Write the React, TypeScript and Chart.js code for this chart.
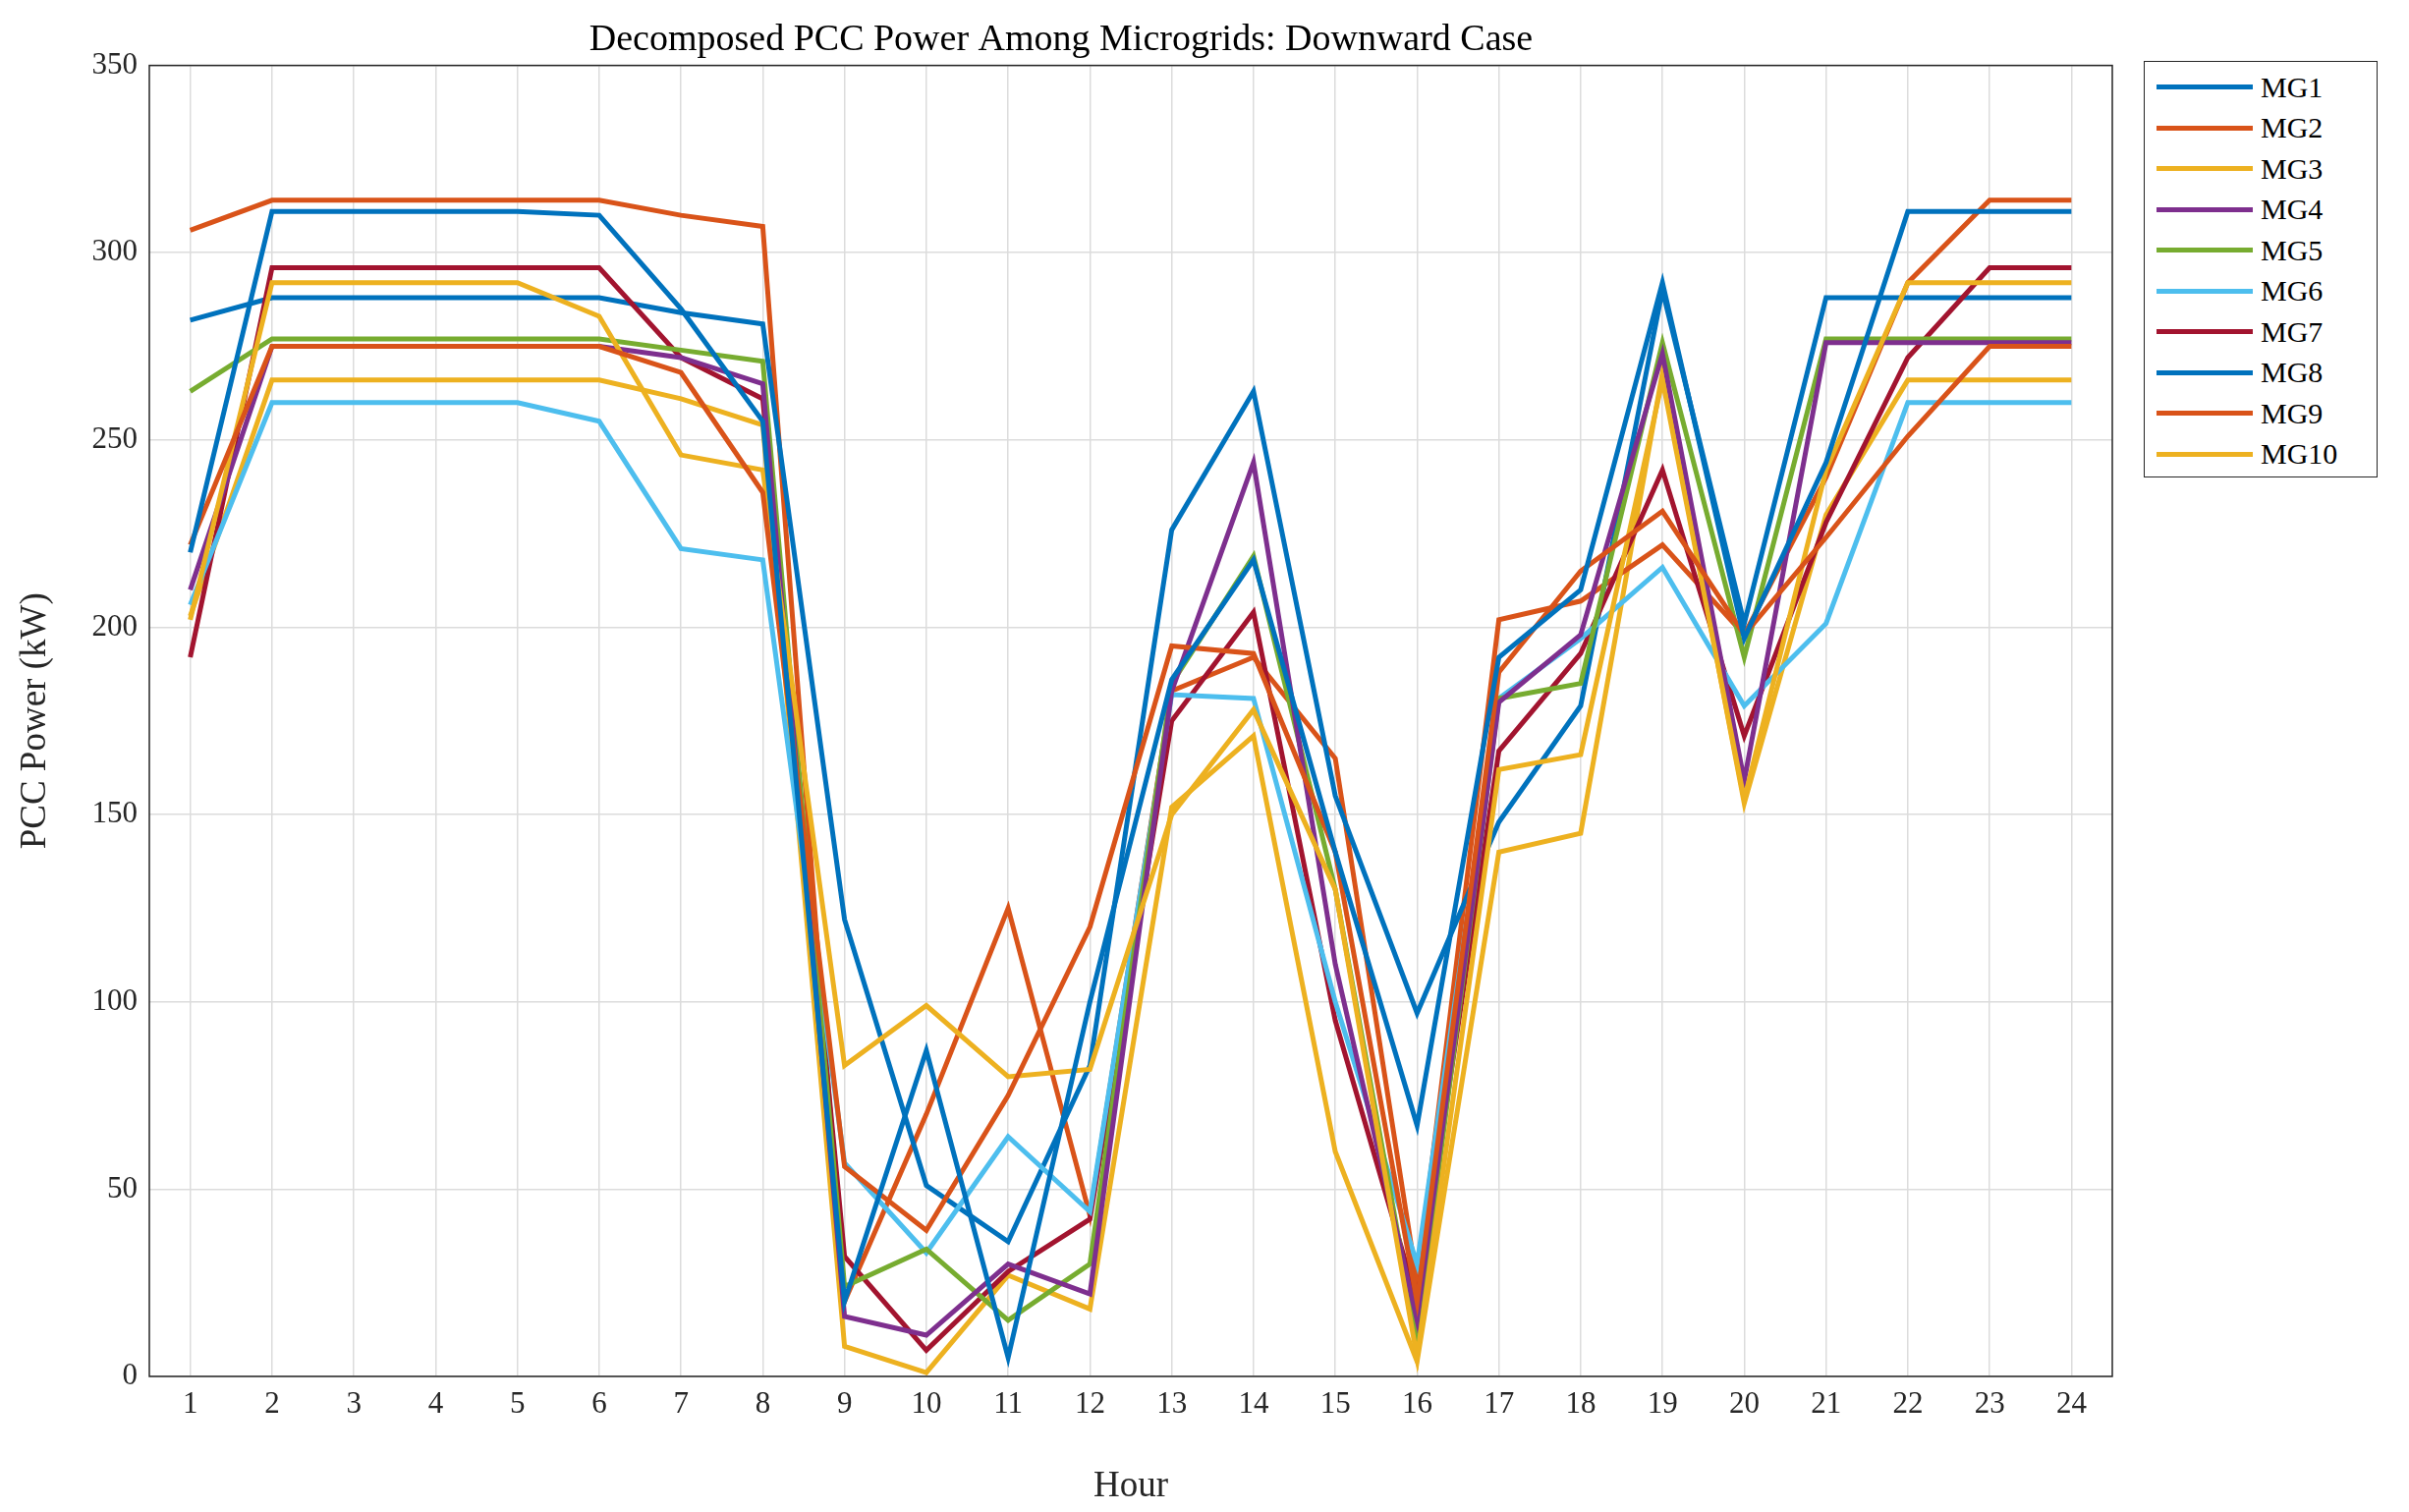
import React, { useEffect, useRef } from "react";
import { Chart, registerables } from "chart.js";
Chart.register(...registerables);

const hours = Array.from({ length: 24 }, (_, i) => i + 1);
const seriesNames = ["MG1", "MG2", "MG3", "MG4", "MG5", "MG6", "MG7", "MG8", "MG9", "MG10"];
const colors = ["#0072BD", "#D95319", "#EDB120", "#7E2F8E", "#77AC30", "#4DBEEE", "#A2142F", "#0072BD", "#D95319", "#EDB120"];

const mg1 = [220, 311, 311, 311, 311, 310, 285, 255, 20, 87, 5, 100, 186, 218, 140, 67, 192, 210, 292, 197, 244, 311, 311, 311];
const mg2 = [222, 275, 275, 275, 275, 275, 268, 236, 56, 39, 75, 120, 195, 193, 140, 20, 188, 215, 231, 198, 224, 251, 275, 275];
const mg3 = [202, 292, 292, 292, 292, 283, 246, 242, 83, 99, 80, 82, 150, 178, 130, 5, 162, 166, 266, 154, 242, 292, 292, 292];
const mg4 = [210, 275, 275, 275, 275, 275, 272, 265, 16, 11, 30, 22, 183, 244, 110, 15, 180, 198, 273, 159, 276, 276, 276, 276];
const mg5 = [263, 277, 277, 277, 277, 277, 274, 271, 24, 34, 15, 30, 185, 219, 130, 10, 181, 185, 276, 192, 277, 277, 277, 277];
const mg6 = [206, 260, 260, 260, 260, 255, 221, 218, 57, 33, 64, 44, 182, 181, 100, 30, 181, 197, 216, 179, 201, 260, 260, 260];
const mg7 = [192, 296, 296, 296, 296, 296, 272, 261, 32, 7, 28, 42, 175, 204, 95, 20, 167, 193, 242, 171, 228, 272, 296, 296];
const mg8 = [282, 288, 288, 288, 288, 288, 284, 281, 122, 51, 36, 83, 226, 263, 155, 97, 148, 179, 290, 201, 288, 288, 288, 288];
const mg9 = [306, 314, 314, 314, 314, 314, 310, 307, 20, 70, 125, 43, 183, 192, 165, 25, 202, 207, 222, 198, 240, 292, 314, 314];
const mg10 = [203, 266, 266, 266, 266, 266, 261, 254, 8, 1, 27, 18, 152, 171, 60, 4, 140, 145, 268, 153, 230, 266, 266, 266];
const allSeries = [mg1, mg2, mg3, mg4, mg5, mg6, mg7, mg8, mg9, mg10];
const yTicks = [0, 50, 100, 150, 200, 250, 300, 350];

const FONT = "'Liberation Serif', 'Times New Roman', serif";

const boxPlugin = {
  id: "box",
  afterDraw(chart: any) {
    const { ctx, chartArea: a } = chart;
    ctx.save();
    ctx.strokeStyle = "#262626";
    ctx.lineWidth = 1.5;
    ctx.strokeRect(a.left, a.top, a.right - a.left, a.bottom - a.top);
    ctx.restore();
  },
};

export default function App() {
  const ref = useRef<HTMLCanvasElement>(null);
  useEffect(() => {
    const chart = new Chart(ref.current as HTMLCanvasElement, {
      type: "line",
      data: {
        datasets: allSeries.map((s, i) => ({
          label: seriesNames[i],
          data: s.map((v, j) => ({ x: hours[j], y: v })),
          borderColor: colors[i],
          backgroundColor: colors[i],
          borderWidth: 5,
          pointRadius: 0,
          tension: 0,
        })),
      },
      plugins: [boxPlugin],
      options: {
        animation: false,
        responsive: false,
        devicePixelRatio: 1,
        layout: { padding: { left: 10, right: 302, top: 0, bottom: 0 } },
        plugins: {
          legend: { display: false },
          tooltip: { enabled: false },
          title: {
            display: true,
            text: "Decomposed PCC Power Among Microgrids: Downward Case",
            color: "#000",
            font: { family: FONT, size: 38, weight: "normal" },
            padding: { top: 18, bottom: 3 },
          },
        },
        scales: {
          x: {
            type: "linear",
            min: 0.5,
            max: 24.5,
            afterBuildTicks: (s: any) => { s.ticks = hours.map((h) => ({ value: h })); },
            afterFit: (s: any) => { s.height = 138; },
            ticks: { color: "#262626", font: { family: FONT, size: 31 }, autoSkip: false, maxRotation: 0, padding: 10, callback: (v: any) => String(v) },
            grid: { color: "#dcdcdc", lineWidth: 1.5, drawTicks: false },
            border: { display: false },
            title: { display: true, text: "Hour", color: "#262626", font: { family: FONT, size: 37 }, padding: { top: 0 } },
          },
          y: {
            min: 0,
            max: 350,
            afterBuildTicks: (s: any) => { s.ticks = yTicks.map((v) => ({ value: v })); },
            afterFit: (s: any) => { s.width = 142; },
            ticks: { color: "#262626", font: { family: FONT, size: 31 }, padding: 12 },
            grid: { color: "#dcdcdc", lineWidth: 1.5, drawTicks: false },
            border: { display: false },
            title: { display: true, text: "PCC Power (kW)", color: "#262626", font: { family: FONT, size: 37 }, padding: { bottom: 4 } },
          },
        },
      } as any,
    });
    return () => chart.destroy();
  }, []);

  return (
    <div style={{ position: "fixed", left: 0, top: 0, width: 2452, height: 1539, background: "#fff" }}>
      <canvas ref={ref} width={2452} height={1539} style={{ display: "block" }} />
      <div
        style={{
          position: "absolute",
          left: 2182,
          top: 62,
          width: 238,
          height: 424,
          border: "1.5px solid #262626",
          background: "#fff",
          boxSizing: "border-box",
          padding: "5px 0 0 12px",
          fontFamily: FONT,
          fontSize: 30,
          color: "#000",
        }}
      >
        {seriesNames.map((n, i) => (
          <div key={n} style={{ display: "flex", alignItems: "center", height: 41.5 }}>
            <div style={{ width: 98, height: 5, background: colors[i], marginRight: 8 }} />
            <span>{n}</span>
          </div>
        ))}
      </div>
    </div>
  );
}
